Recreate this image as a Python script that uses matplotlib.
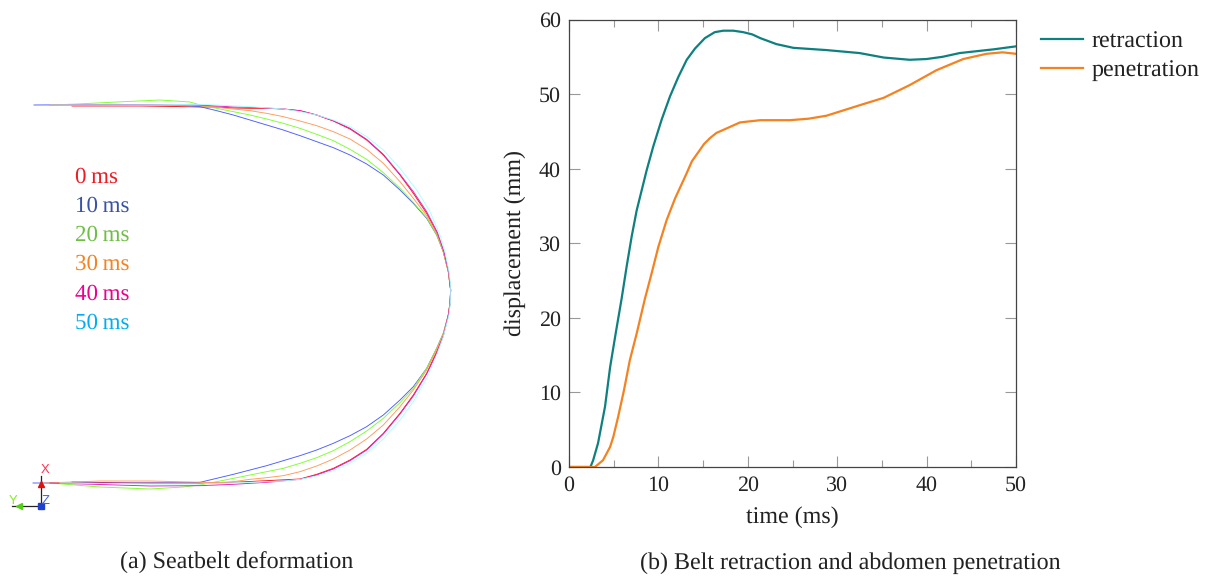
import matplotlib
matplotlib.use("Agg")
import matplotlib.pyplot as plt

plt.rcParams["font.family"] = ["Liberation Serif", "DejaVu Serif"]
plt.rcParams["text.hinting"] = "no_hinting"
plt.rcParams["text.hinting_factor"] = 1

W, H = 1212, 577

# ---------------- panel b: time (ms) / displacement (mm) ----------------
ret_t = [0, 2.4, 2.7, 3.25, 4.03, 4.6, 5.22, 5.89, 6.45, 7.01, 7.57, 8.13, 8.69, 9.43, 10.37, 11.3, 12.23, 13.17,
         14.09, 15.2, 16.3, 17.26, 18.38, 19.5, 20.5, 21.4, 23.2, 25.1, 28.8, 32.5, 35.2, 38.1, 40, 41.8, 43.7,
         47.5, 50]
ret_v = [0, 0, 0.9, 3.2, 8.1, 13.4, 17.9, 22.6, 26.9, 30.9, 34.4, 37.1, 39.8, 43.0, 46.6, 49.7, 52.3, 54.6,
         56.1, 57.5, 58.3, 58.5, 58.5, 58.3, 58, 57.5, 56.7, 56.2, 55.9, 55.5, 54.9, 54.6, 54.7, 55, 55.5,
         56, 56.4]
pen_t = [0, 2.9, 3.1, 3.8, 4.6, 4.96, 5.5, 6.15, 6.8, 7.57, 8.5, 9.25, 9.99, 10.92, 11.86, 13.09, 13.75, 14.46, 15.1,
         15.77, 16.5, 17.26, 19.13, 21.4, 24.7, 26.8, 28.8, 32.5, 35.2, 38.1, 41.1, 44.1, 46.7, 48.5, 50]
pen_v = [0, 0, 0.2, 0.9, 2.7, 4.06, 6.75, 10.3, 14.3, 17.9, 22.6, 26, 29.5, 33.1, 36, 39.2, 41, 42.2, 43.3,
         44.1, 44.8, 45.2, 46.2, 46.5, 46.5, 46.7, 47.1, 48.5, 49.5, 51.2, 53.2, 54.7, 55.4, 55.6, 55.4]
x_ticks = [0, 10, 20, 30, 40, 50]
x_minor = [5, 15, 25, 35, 45]
y_ticks = [0, 10, 20, 30, 40, 50, 60]

# ---------------- panel a: belt outlines, read in image pixels ----------------
names = ["0 ms", "10 ms", "20 ms", "30 ms", "40 ms", "50 ms"]
label_colors = ["#ed1c24", "#3953a4", "#6ebe44", "#f58220", "#ec008c", "#00aeef"]
line_colors = ["#ff1010", "#4a5cff", "#7cff2a", "#ff9a5a", "#e020c0", "#a8ffff"]

# flat left ends
top_end = {
    "0 ms": [(72, 106), (107, 106), (140, 106), (175, 106.5)],
    "10 ms": [(34, 105), (120, 104.5), (170, 104.5)],
    "20 ms": [(50, 105), (77, 104), (117, 102), (160, 100), (190, 102)],
    "30 ms": [(50, 105), (130, 105), (170, 105.5)],
    "40 ms": [(50, 105), (140, 104.5), (190, 104.5)],
    "50 ms": [(50, 105), (150, 104.8)],
}
bot_end = {
    "0 ms": [(72, 482), (133, 483), (180, 483)],
    "10 ms": [(33, 483), (130, 483), (180, 483)],
    "20 ms": [(50, 483), (100, 487), (150, 489), (183, 487)],
    "30 ms": [(45, 483), (100, 481), (150, 481), (190, 482)],
    "40 ms": [(50, 483), (100, 484.5), (150, 486)],
    "50 ms": [(60, 483), (150, 484)],
}
# curved part, image pixel = (200 + cx / 3, 95 + cy / 3)
top_arc = {
    "0 ms": [(0, 36), (50, 36), (100, 39), (150, 40), (200, 40), (250, 42), (300, 47), (350, 60), (400, 78), (450, 102),
             (500, 135), (550, 180), (600, 240), (640, 295), (680, 355), (710, 412), (730, 470), (745, 530), (750, 570)],
    "10 ms": [(0, 35), (50, 47), (100, 60), (150, 75), (200, 90), (250, 105), (300, 122), (350, 140), (400, 158),
              (450, 180), (500, 207), (550, 240), (600, 285), (640, 325), (680, 370), (710, 420), (730, 470),
              (745, 530), (750, 570)],
    "20 ms": [(0, 30), (50, 40), (100, 50), (150, 60), (200, 72), (250, 85), (300, 100), (350, 118), (400, 137),
              (450, 163), (500, 193), (550, 233), (600, 280), (640, 322), (680, 368), (710, 420), (730, 470),
              (745, 530), (750, 570)],
    "30 ms": [(0, 32), (50, 37), (100, 42), (150, 47), (200, 55), (250, 65), (300, 78), (350, 92), (400, 110),
              (450, 132), (500, 163), (550, 205), (600, 260), (640, 310), (680, 362), (710, 415), (730, 470),
              (745, 530), (750, 570)],
    "40 ms": [(0, 30), (50, 33), (100, 36), (150, 37), (200, 39), (250, 42), (300, 47), (350, 60), (400, 77), (450, 100),
              (500, 133), (550, 178), (600, 238), (640, 290), (680, 350), (712, 412), (732, 470), (746, 530), (750, 570)],
    "50 ms": [(0, 28), (50, 30), (150, 35), (250, 42), (300, 50), (350, 60), (400, 75), (450, 95), (500, 125),
              (550, 165), (600, 220), (650, 285), (690, 350), (720, 420), (735, 470), (747, 530), (752, 570)],
}
# image pixel = (200 + cx / 3, 290 + cy / 3)
bot_arc = {
    "0 ms": [(752, 0), (750, 40), (745, 75), (730, 135), (710, 185), (680, 250), (640, 315), (600, 370), (550, 430),
             (500, 478), (450, 510), (400, 535), (350, 553), (300, 567), (200, 572), (100, 577), (0, 580)],
    "10 ms": [(752, 0), (750, 40), (745, 75), (730, 130), (710, 175), (680, 235), (640, 290), (600, 330), (550, 375),
              (500, 410), (450, 437), (400, 460), (350, 480), (300, 497), (250, 512), (200, 527), (150, 540),
              (100, 553), (50, 565), (0, 577)],
    "20 ms": [(752, 0), (750, 40), (745, 75), (730, 130), (710, 175), (680, 235), (640, 295), (600, 338), (550, 385),
              (500, 423), (450, 455), (400, 482), (350, 503), (300, 520), (250, 535), (200, 545), (150, 555),
              (100, 565), (40, 577), (0, 585)],
    "30 ms": [(752, 0), (750, 40), (745, 75), (730, 130), (710, 178), (680, 240), (640, 300), (600, 350), (550, 405),
              (500, 447), (450, 480), (400, 507), (350, 528), (300, 545), (250, 557), (200, 563), (150, 568),
              (100, 575), (50, 578)],
    "40 ms": [(752, 0), (750, 40), (745, 75), (730, 138), (710, 190), (680, 252), (640, 318), (600, 372), (550, 432),
              (500, 480), (450, 512), (400, 537), (350, 555), (300, 568), (200, 577), (100, 583), (0, 587)],
    "50 ms": [(752, 30), (747, 75), (730, 140), (710, 195), (680, 265), (640, 335), (600, 390), (550, 447),
              (500, 490), (450, 520), (400, 542), (350, 558), (300, 568), (250, 573), (150, 577), (50, 580), (0, 582)],
}


def belt_path(n):
    pts = list(top_end[n])
    pts += [(200 + cx / 3, 95 + cy / 3) for cx, cy in top_arc[n]]
    pts += [(200 + cx / 3, 290 + cy / 3) for cx, cy in bot_arc[n]]
    pts += bot_end[n][::-1]
    return [p[0] for p in pts], [p[1] for p in pts]


def main():
    fig = plt.figure(figsize=(W / 100, H / 100), dpi=100)

    # left panel drawn on a pixel-sized canvas
    a = fig.add_axes([0, 0, 470 / W, 1])
    a.set_xlim(0, 470); a.set_ylim(H, 0); a.axis("off")
    for n, c in zip(names, line_colors):
        xs, ys = belt_path(n)
        a.plot(xs, ys, color=c, lw=0.65, solid_joinstyle="round")
    for i, (n, c) in enumerate(zip(names, label_colors)):
        a.text(75, 177 + i * 29.2, n.replace(" ", "\u2009"), color=c, fontsize=16.5, va="center", ha="left")

    # coordinate triad
    a.plot([41, 41], [506, 476], color="#222222", lw=0.9)
    a.plot([41, 12], [506, 506], color="#222222", lw=0.9)
    a.plot([41], [484], marker="^", ms=5, color="#e01010", ls="none")
    a.plot([19], [506], marker="<", ms=5, color="#50d010", ls="none")
    a.plot([41], [506], marker="s", ms=4.5, color="#2040d0", ls="none")
    a.text(45.5, 470, "X", color="#ff3050", fontsize=9, ha="center", va="center", family="Liberation Sans")
    a.text(13.5, 501, "Y", color="#80ee20", fontsize=9, ha="center", va="center", family="Liberation Sans")
    a.text(46, 501, "Z", color="#4060f0", fontsize=9, ha="center", va="center", family="Liberation Sans")

    # right panel
    ax = fig.add_axes([569 / W, 1 - 467 / H, (1016 - 569) / W, (467 - 19.5) / H])
    ax.plot(ret_t, ret_v, color="#0e8080", lw=1.6, label="retraction")
    ax.plot(pen_t, pen_v, color="#f58220", lw=1.6, label="penetration")
    ax.set_xlim(0, 50); ax.set_ylim(0, 60)
    ax.set_xticks(x_ticks); ax.set_xticks(x_minor, minor=True); ax.set_yticks(y_ticks)
    ax.tick_params(axis="both", which="major", direction="in", top=True, right=True, length=8, width=0.8,
                   color="#999999", labelsize=16, labelcolor="#222222")
    ax.tick_params(axis="x", which="major", pad=6)
    ax.tick_params(axis="y", which="major", pad=6)
    ax.tick_params(axis="x", which="minor", direction="in", top=True, length=5, width=0.8, color="#999999")
    for s in ax.spines.values():
        s.set_color("#444444"); s.set_linewidth(0.9)
    ax.set_xlabel("time (ms)", fontsize=17, color="#222222", labelpad=8)
    ax.set_ylabel("displacement (mm)", fontsize=17, color="#222222", labelpad=9)
    ax.legend(loc="upper left", bbox_to_anchor=(1.045, 0.985), frameon=False, fontsize=17, labelcolor="#222222",
              handlelength=1.78, handletextpad=0.35, labelspacing=0.3, borderaxespad=0, borderpad=0.2)

    fig.text(237 / W, 1 - 563 / H, "(a) Seatbelt deformation", fontsize=17, ha="center", va="center", color="#222222")
    fig.text(850 / W, 1 - 563 / H, "(b) Belt retraction and abdomen penetration", fontsize=17, ha="center",
             va="center", color="#222222")
    fig.savefig("out.png", dpi=100)


if __name__ == "__main__":
    main()
